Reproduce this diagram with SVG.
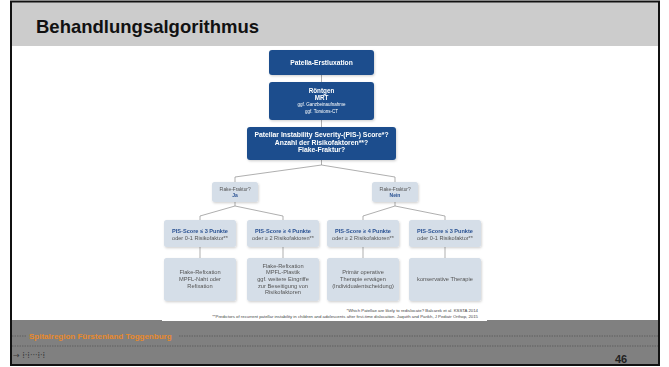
<svg xmlns="http://www.w3.org/2000/svg" width="669" height="367" viewBox="0 0 669 367">
<defs>
<style>
.dark{fill:#1c4e8d;}
.light{fill:#d5dee8;}
.wb{font-family:"Liberation Sans",Arial,sans-serif;font-weight:bold;fill:#ffffff;text-anchor:middle;}
.ws{font-family:"Liberation Sans",Arial,sans-serif;fill:#ffffff;text-anchor:middle;}
.bb{font-family:"Liberation Sans",Arial,sans-serif;font-weight:bold;fill:#2a5293;text-anchor:middle;}
.gt{font-family:"Liberation Sans",Arial,sans-serif;fill:#555555;text-anchor:middle;}
.fn{font-family:"Liberation Sans",Arial,sans-serif;fill:#444444;text-anchor:end;font-size:4.3px;}
.conn{fill:none;stroke:#8c8c8c;stroke-width:0.7;}
.dots{stroke:#555555;stroke-width:0.8;stroke-dasharray:1.5 1;}
</style>
<filter id="sh" x="-10%" y="-10%" width="125%" height="140%">
<feDropShadow dx="0.8" dy="1.2" stdDeviation="0.8" flood-color="#000" flood-opacity="0.18"/>
</filter>
</defs>

<!-- page background -->
<rect x="0" y="0" width="669" height="367" fill="#ffffff"/>
<rect x="11" y="2" width="648" height="44" fill="#cccccc"/>
<text x="36" y="33" font-family="Liberation Sans,Arial,sans-serif" font-weight="bold" font-size="18.5" fill="#111111">Behandlungsalgorithmus</text>

<!-- connectors -->
<g id="connectors">
<line class="conn" x1="321.5" y1="75" x2="321.5" y2="82"/>
<line class="conn" x1="321.5" y1="120" x2="321.5" y2="127"/>
<polyline class="conn" points="321.5,160 321.5,165 235,177 235,182"/>
<polyline class="conn" points="321.5,165 395,177 395,182"/>
<polyline class="conn" points="235,202 235,206 200,216 200,220"/>
<polyline class="conn" points="235,206 283,216 283,220"/>
<polyline class="conn" points="395,202 395,206 363,216 363,220"/>
<polyline class="conn" points="395,206 445,216 445,220"/>
<line class="conn" x1="200" y1="247" x2="200" y2="258"/>
<line class="conn" x1="283" y1="247" x2="283" y2="258"/>
<line class="conn" x1="363" y1="247" x2="363" y2="258"/>
<line class="conn" x1="445" y1="247" x2="445" y2="258"/>
</g>

<g id="n1" filter="url(#sh)">
<rect class="dark" x="269" y="50" width="105" height="25" rx="3"/>
<text class="wb" x="321.5" y="65" font-size="6.7">Patella-Erstluxation</text>
</g>

<g id="n2" filter="url(#sh)">
<rect class="dark" x="269" y="82" width="105" height="38" rx="3"/>
<text class="wb" x="321.5" y="92.5" font-size="6.3">Röntgen</text>
<text class="wb" x="321.5" y="99.5" font-size="6.3">MRT</text>
<text class="ws" x="321.5" y="106" font-size="4.5">ggf. Ganzbeinaufnahme</text>
<text class="ws" x="321.5" y="112.5" font-size="4.5">ggf. Torsions-CT</text>
</g>

<g id="n3" filter="url(#sh)">
<rect class="dark" x="247" y="127" width="149" height="33" rx="3"/>
<text class="wb" x="321.5" y="137" font-size="6.8">Patellar Instability Severity-(PIS-) Score*?</text>
<text class="wb" x="321.5" y="144.5" font-size="6.8">Anzahl der Risikofaktoren**?</text>
<text class="wb" x="321.5" y="152" font-size="6.8">Flake-Fraktur?</text>
</g>

<g id="n4" filter="url(#sh)">
<rect class="light" x="212" y="182" width="46" height="20" rx="2.5"/>
<text class="gt" x="235" y="190.5" font-size="4.8">Flake-Fraktur?</text>
<text class="bb" x="235" y="197" font-size="5">Ja</text>
</g>

<g id="n5" filter="url(#sh)">
<rect class="light" x="372" y="182" width="46" height="20" rx="2.5"/>
<text class="gt" x="395" y="190.5" font-size="4.8">Flake-Fraktur?</text>
<text class="bb" x="395" y="197" font-size="5">Nein</text>
</g>

<g id="n6" filter="url(#sh)">
<rect class="light" x="164" y="220" width="72" height="27" rx="2.5"/>
<text class="bb" x="200" y="233" font-size="5.6">PIS-Score ≤ 3 Punkte</text>
<text class="gt" x="200" y="239.5" font-size="5.6">oder 0-1 Risikofaktor**</text>
</g>

<g id="n7" filter="url(#sh)">
<rect class="light" x="247" y="220" width="72" height="27" rx="2.5"/>
<text class="bb" x="283" y="233" font-size="5.6">PIS-Score ≥ 4 Punkte</text>
<text class="gt" x="283" y="239.5" font-size="5.6">oder ≥ 2 Risikofaktoren**</text>
</g>

<g id="n8" filter="url(#sh)">
<rect class="light" x="327" y="220" width="72" height="27" rx="2.5"/>
<text class="bb" x="363" y="233" font-size="5.6">PIS-Score ≥ 4 Punkte</text>
<text class="gt" x="363" y="239.5" font-size="5.6">oder ≥ 2 Risikofaktoren**</text>
</g>

<g id="n9" filter="url(#sh)">
<rect class="light" x="409" y="220" width="72" height="27" rx="2.5"/>
<text class="bb" x="445" y="233" font-size="5.6">PIS-Score ≤ 3 Punkte</text>
<text class="gt" x="445" y="239.5" font-size="5.6">oder 0-1 Risikofaktor**</text>
</g>

<g id="n10" filter="url(#sh)">
<rect class="light" x="164" y="258" width="72" height="43" rx="2.5"/>
<text class="gt" x="200" y="274.3" font-size="5.7">Flake-Refixation</text>
<text class="gt" x="200" y="281" font-size="5.7">MPFL-Naht oder</text>
<text class="gt" x="200" y="287.7" font-size="5.7">Refixation</text>
</g>

<g id="n11" filter="url(#sh)">
<rect class="light" x="247" y="258" width="72" height="43" rx="2.5"/>
<text class="gt" x="283" y="267.7" font-size="5.7">Flake-Refixation</text>
<text class="gt" x="283" y="274.3" font-size="5.7">MPFL-Plastik</text>
<text class="gt" x="283" y="281" font-size="5.7">ggf. weitere Eingriffe</text>
<text class="gt" x="283" y="287.7" font-size="5.7">zur Beseitigung von</text>
<text class="gt" x="283" y="294.3" font-size="5.7">Risikofaktoren</text>
</g>

<g id="n12" filter="url(#sh)">
<rect class="light" x="327" y="258" width="72" height="43" rx="2.5"/>
<text class="gt" x="363" y="274.3" font-size="5.7">Primär operative</text>
<text class="gt" x="363" y="281" font-size="5.7">Therapie erwägen</text>
<text class="gt" x="363" y="287.7" font-size="5.7">(Individualentscheidung)</text>
</g>

<g id="n13" filter="url(#sh)">
<rect class="light" x="409" y="258" width="72" height="43" rx="2.5"/>
<text class="gt" x="445" y="281" font-size="5.7">konservative Therapie</text>
</g>

<!-- footnotes -->
<text class="fn" x="478" y="311.5">*Which Patellae are likely to redislocate? Balcarek et al. KSSTA 2014</text>
<text class="fn" x="478" y="317.5">**Predictors of recurrent patellar instability in children and adolescents after first-time dislocation. Jaquith and Parikh, J Pediatr Orthop, 2015</text>

<!-- footer -->
<rect x="11" y="320" width="648" height="45" fill="#808080"/>
<rect x="162" y="319" width="325" height="2" fill="#ffffff"/>
<line class="dots" x1="12" y1="336" x2="27" y2="336"/>
<line class="dots" x1="179" y1="336" x2="659" y2="336"/>
<line class="dots" x1="12" y1="346" x2="659" y2="346"/>
<text x="29" y="339" font-family="Liberation Sans,Arial,sans-serif" font-weight="bold" font-size="8" fill="#e8892b">Spitalregion Fürstenland Toggenburg</text>
<text x="13" y="358" font-family="DejaVu Sans,sans-serif" font-size="8" fill="#3a3a3a">→ ⁞·⁞···⁞·⁞</text>
<text x="615" y="362.5" font-family="Liberation Sans,Arial,sans-serif" font-weight="bold" font-size="11" fill="#222222">46</text>

<!-- frame -->
<rect x="11" y="1.5" width="648" height="363.5" fill="none" stroke="#111111" stroke-width="2"/>
</svg>
